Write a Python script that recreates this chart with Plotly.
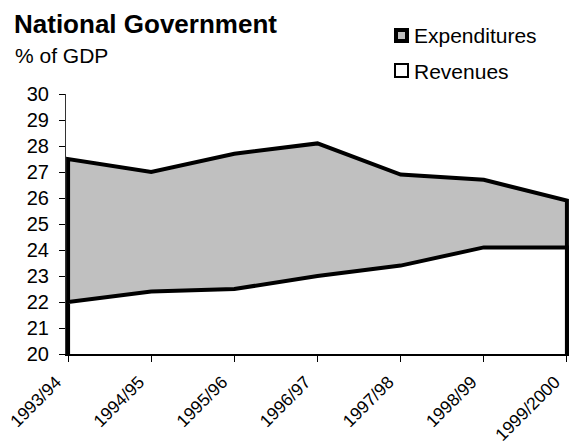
import plotly.graph_objects as go

# National government finances, % of GDP
categories = ["1993/94", "1994/95", "1995/96", "1996/97", "1997/98", "1998/99", "1999/2000"]
expenditures = [27.5, 27.0, 27.7, 28.1, 26.9, 26.7, 25.9]
revenues = [22.0, 22.4, 22.5, 23.0, 23.4, 24.1, 24.1]

Y_MIN, Y_MAX = 20, 30
FONT = "Liberation Sans, Arial, sans-serif"

# page geometry (pixels)
WIDTH, HEIGHT = 570, 447
L, R, T, B = 66, 1, 94, 93
PW, PH = WIDTH - L - R, HEIGHT - T - B


def paper_x(px):
    return (px - L) / PW


def paper_y(py):
    return (T + PH - py) / PH


idx = list(range(len(categories)))


def area_polygon(values):
    # closed outline: down to the baseline at both ends
    xs = [idx[0]] + idx + [idx[-1]]
    ys = [Y_MIN] + list(values) + [Y_MIN]
    return xs, ys


fig = go.Figure()

ex, ey = area_polygon(expenditures)
fig.add_trace(go.Scatter(
    x=ex, y=ey, mode="lines", fill="toself", fillcolor="#C0C0C0",
    line=dict(color="black", width=4), name="Expenditures",
    hoverinfo="skip", showlegend=False,
))

rx, ry = area_polygon(revenues)
fig.add_trace(go.Scatter(
    x=rx, y=ry, mode="lines", fill="toself", fillcolor="white",
    line=dict(color="black", width=4), name="Revenues",
    hoverinfo="skip", showlegend=False,
))

shapes = [
    # legend keys
    dict(type="rect", xref="paper", yref="paper",
         x0=paper_x(396), x1=paper_x(407), y0=paper_y(41), y1=paper_y(30),
         fillcolor="#C0C0C0", line=dict(color="black", width=4)),
    dict(type="rect", xref="paper", yref="paper",
         x0=paper_x(395), x1=paper_x(408), y0=paper_y(77), y1=paper_y(64),
         fillcolor="white", line=dict(color="black", width=2)),
]

annotations = [
    dict(text="<b>National Government</b>", xref="paper", yref="paper",
         x=paper_x(12), y=paper_y(24), xanchor="left", yanchor="middle",
         showarrow=False, font=dict(family=FONT, size=26, color="black")),
    dict(text="% of GDP", xref="paper", yref="paper",
         x=paper_x(13), y=paper_y(55), xanchor="left", yanchor="middle",
         showarrow=False, font=dict(family=FONT, size=21, color="black")),
    dict(text="Expenditures", xref="paper", yref="paper",
         x=paper_x(412), y=paper_y(36), xanchor="left", yanchor="middle",
         showarrow=False, font=dict(family=FONT, size=21, color="black")),
    dict(text="Revenues", xref="paper", yref="paper",
         x=paper_x(412), y=paper_y(71), xanchor="left", yanchor="middle",
         showarrow=False, font=dict(family=FONT, size=21, color="black")),
]

fig.update_layout(
    width=WIDTH, height=HEIGHT,
    margin=dict(l=L, r=R, t=T, b=B, pad=0, autoexpand=False),
    paper_bgcolor="white", plot_bgcolor="white",
    font=dict(family=FONT, size=20, color="black"),
    shapes=shapes, annotations=annotations,
    showlegend=False,
)

fig.update_xaxes(
    range=[idx[0] - 0.025, idx[-1] + 0.025], automargin=False,
    tickmode="array", tickvals=idx, ticktext=categories,
    tickangle=-45, ticks="outside", ticklen=6, tickwidth=1, tickcolor="black",
    ticklabelstandoff=3, ticklabelshift=-12, ticklabeloverflow="allow",
    showline=True, linecolor="black", linewidth=2,
    showgrid=False, zeroline=False, fixedrange=True,
    tickfont=dict(family=FONT, size=17.5, color="black"),
)

fig.update_yaxes(
    range=[Y_MIN, Y_MAX], dtick=1, tick0=Y_MIN, automargin=False,
    ticks="outside", ticklen=6, tickwidth=1, tickcolor="black",
    ticklabelstandoff=6,
    showline=True, linecolor="#333333", linewidth=1,
    showgrid=False, zeroline=False, fixedrange=True,
    tickfont=dict(family=FONT, size=20, color="black"),
)

fig.write_html("out.html", config=dict(displayModeBar=False))
